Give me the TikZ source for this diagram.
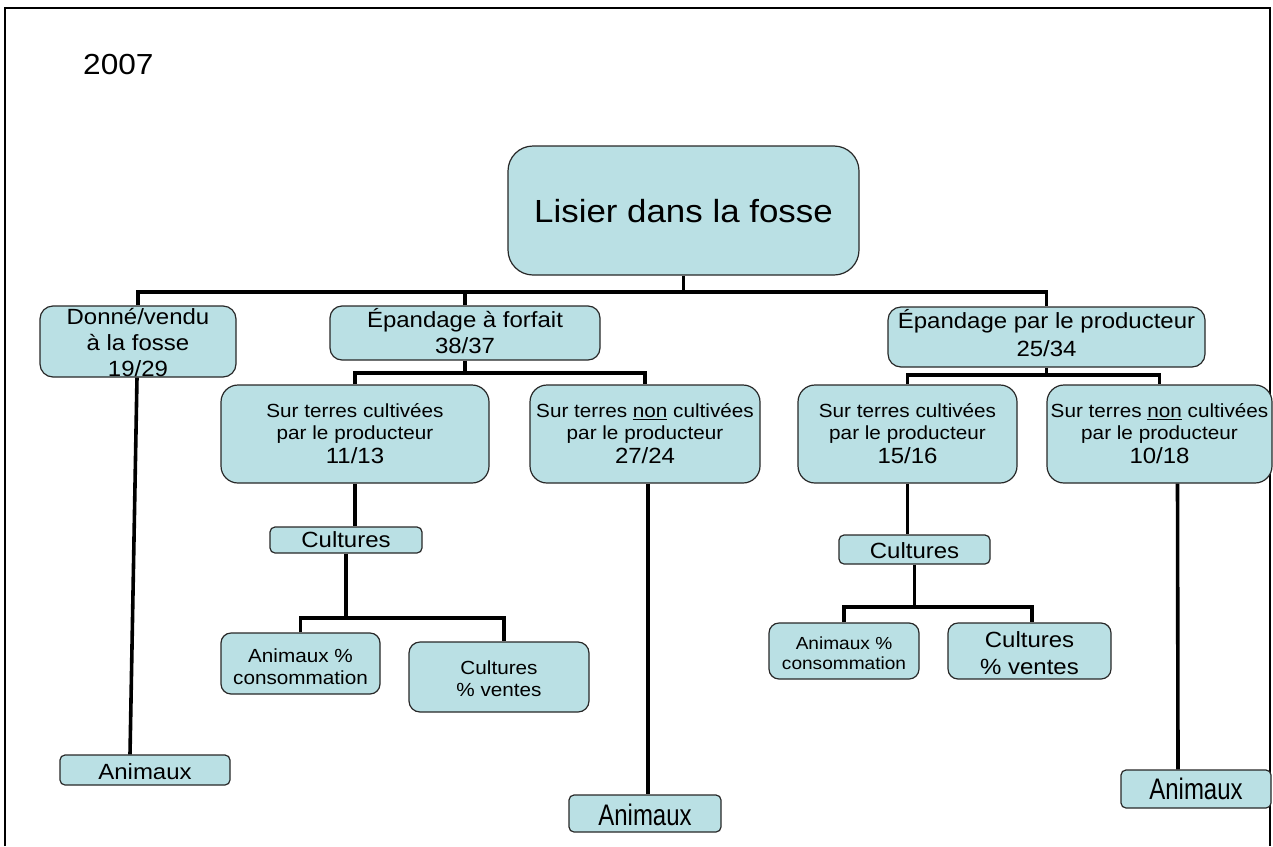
\documentclass[tikz,border=0pt]{standalone}
\usepackage{fontspec}
\setmainfont{Liberation Sans}[FakeStretch=1.09]
\usepackage{graphicx}
\definecolor{boxfill}{RGB}{186,224,228}
\definecolor{boxline}{RGB}{40,40,40}
\begin{document}
\begin{tikzpicture}[x=1pt,y=-1pt,
  box/.style={draw=boxline, fill=boxfill, line width=1.2pt, inner sep=0pt},
  txt/.style={align=center, inner sep=0pt},
  conn/.style={line width=3.6pt, black},
  fbig/.style={font=\fontsize{22}{26}\selectfont},
  fmid/.style={font=\fontsize{19}{22}\selectfont},
  fsmall/.style={font=\fontsize{17.5}{20}\selectfont}]
\useasboundingbox (0,0) rectangle (1273,846);
\fill[white] (0,0) rectangle (1273,846);
\draw[line width=2pt] (4.5,846) -- (4.5,8) -- (1270,8) -- (1270,846);

\node[font=\fontsize{29}{35}\selectfont, anchor=base west, inner sep=0pt] (year) at (83,74) {2007};

% boxes
\node[box, rounded corners=25pt, minimum width=351pt, minimum height=129pt] (root) at (683.5,210.5) {};
\node[box, rounded corners=13pt, minimum width=196pt, minimum height=71pt] (don) at (138,341.5) {};
\node[box, rounded corners=12pt, minimum width=270pt, minimum height=54pt] (epf) at (465,333) {};
\node[box, rounded corners=13pt, minimum width=317pt, minimum height=60pt] (epp) at (1046.5,337) {};
\node[box, rounded corners=17pt, minimum width=268pt, minimum height=98pt] (sc1) at (355,434) {};
\node[box, rounded corners=17pt, minimum width=230pt, minimum height=98pt] (sn1) at (645,434) {};
\node[box, rounded corners=17pt, minimum width=219pt, minimum height=98pt] (sc2) at (907.5,434) {};
\node[box, rounded corners=17pt, minimum width=225pt, minimum height=98pt] (sn2) at (1159.5,434) {};
\node[box, rounded corners=5pt, minimum width=152pt, minimum height=26pt] (cu1) at (346,540) {};
\node[box, rounded corners=5pt, minimum width=151pt, minimum height=29pt] (cu2) at (914.5,549.5) {};
\node[box, rounded corners=10pt, minimum width=159pt, minimum height=61pt] (am1) at (300.5,663.5) {};
\node[box, rounded corners=11pt, minimum width=180pt, minimum height=70pt] (cv1) at (499,677) {};
\node[box, rounded corners=10pt, minimum width=150pt, minimum height=56pt] (am2) at (844,651) {};
\node[box, rounded corners=10pt, minimum width=163pt, minimum height=56pt] (cv2) at (1029.5,651) {};
\node[box, rounded corners=5pt, minimum width=170pt, minimum height=30pt] (an1) at (145,770) {};
\node[box, rounded corners=5pt, minimum width=152pt, minimum height=37pt] (an2) at (645,813.5) {};
\node[box, rounded corners=5pt, minimum width=150pt, minimum height=38pt] (an3) at (1196,789) {};

% texts
\node[txt, font=\fontsize{32}{38}\selectfont, yshift=-1pt] (troot) at (root) {Lisier dans la fosse};
\node[txt, fbig, yshift=-1.5pt] (tdon) at (don) {Donné/vendu\\à la fosse\\19/29};
\node[txt, fbig, yshift=2.4pt] (tepf) at (epf) {Épandage à forfait\\38/37};
\node[txt, fbig, font=\fontsize{22}{28}\selectfont, yshift=4pt] (tepp) at (epp) {Épandage par le producteur\\25/34};
\node[txt, fmid] (tsc1) at (sc1) {Sur terres cultivées\\par le producteur\\[2pt]{\fontsize{22}{24}\selectfont 11/13}};
\node[txt, fmid] (tsn1) at (sn1) {Sur terres \underline{non} cultivées\\par le producteur\\[2pt]{\fontsize{22}{24}\selectfont 27/24}};
\node[txt, fmid] (tsc2) at (sc2) {Sur terres cultivées\\par le producteur\\[2pt]{\fontsize{22}{24}\selectfont 15/16}};
\node[txt, fmid] (tsn2) at (sn2) {Sur terres \underline{non} cultivées\\par le producteur\\[2pt]{\fontsize{22}{24}\selectfont 10/18}};
\node[txt, fbig] (tcu1) at (cu1) {Cultures};
\node[txt, fbig, yshift=-1.5pt] (tcu2) at (cu2) {Cultures};
\node[txt, fmid, yshift=-2.7pt] (tam1) at (am1) {Animaux \%\\consommation};
\node[txt, fmid, yshift=-1.2pt] (tcv1) at (cv1) {Cultures\\\% ventes};
\node[txt, fsmall, yshift=-1.8pt] (tam2) at (am2) {Animaux \%\\consommation};
\node[txt, fbig, font=\fontsize{22}{27}\selectfont, yshift=-2.6pt] (tcv2) at (cv2) {Cultures\\\% ventes};
\node[txt, fbig, yshift=-2pt] (tan1) at (an1) {Animaux};
\node[txt, fbig, yshift=-1.5pt] (tan2) at (an2) {\scalebox{1}[1.35]{Animaux}};
\node[txt, fbig] (tan3) at (an3) {\scalebox{1}[1.35]{Animaux}};

% bus coordinates
\coordinate (bus1) at (0,292);
\coordinate (bus2) at (0,373);
\coordinate (bus3) at (0,375);
\coordinate (bus4) at (0,618);
\coordinate (bus5) at (0,607);

% connectors
\draw[conn] (don.north) -- (don.north |- bus1) -- (epp.north |- bus1) -- (epp.north);
\draw[conn] (root.south) -- (root.south |- bus1);
\draw[conn] (epf.north) -- (epf.north |- bus1);

\draw[conn] (sc1.north) -- (sc1.north |- bus2) -- (sn1.north |- bus2) -- (sn1.north);
\draw[conn] (epf.south) -- (epf.south |- bus2);

\draw[conn] (sc2.north) -- (sc2.north |- bus3) -- (sn2.north |- bus3) -- (sn2.north);
\draw[conn] (epp.south) -- (epp.south |- bus3);

\draw[conn] (sc1.south) -- (sc1.south |- cu1.north);
\draw[conn] (cu1.south) -- (cu1.south |- bus4);
\draw[conn] (am1.north) -- (am1.north |- bus4) -- ([xshift=5pt]cv1.north |- bus4) -- ([xshift=5pt]cv1.north);

\draw[conn] (sc2.south) -- (sc2.south |- cu2.north);
\draw[conn] (cu2.south) -- (cu2.south |- bus5);
\draw[conn] (am2.north) -- (am2.north |- bus5) -- ([xshift=2.5pt]cv2.north |- bus5) -- ([xshift=2.5pt]cv2.north);

\draw[conn] ([xshift=-1pt]don.south) -- ([xshift=-15pt]an1.north);
\draw[conn] ([xshift=3pt]sn1.south) -- ([xshift=3pt]an2.north);
\draw[conn] ([xshift=18pt]sn2.south) -- ([xshift=-18pt]an3.north);
\end{tikzpicture}
\end{document}
